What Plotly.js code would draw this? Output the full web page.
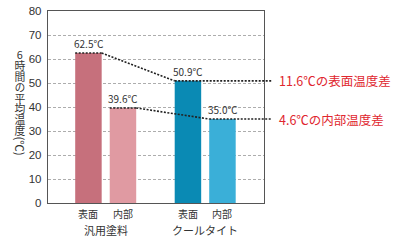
<!DOCTYPE html>
<html><head><meta charset="utf-8">
<script src="https://cdn.plot.ly/plotly-3.0.1.min.js"></script>
<style>html,body{margin:0;padding:0;background:#fff}#c{width:414px;height:245px}</style>
</head><body><div id="c"></div>
<script>
// data
var groups = ['汎用塗料', 'クールタイト'];
var parts = ['表面', '内部'];
var surfaceVals = [62.5, 50.9];
var innerVals = [39.6, 35.0];
var yTicks = [0, 10, 20, 30, 40, 50, 60, 70, 80];
var yTitle = '6時間の平均温度';
var unit = '℃';

var surfaceColors = ['#c6707c', '#0a8ab4'];
var innerColors = ['#e09aa2', '#3aafd8'];
var FONT = 'Noto Sans CJK JP, sans-serif';

var bargap = 0.306, bargroupgap = 0.233;
var slot = (1 - bargap) / 2;
var halfW = slot * (1 - bargroupgap) / 2;
function center(g, t) { return g + (t - 0.5) * slot; }

var traces = [
  {type: 'bar', x: groups, y: surfaceVals, marker: {color: surfaceColors}, hoverinfo: 'none', name: parts[0]},
  {type: 'bar', x: groups, y: innerVals, marker: {color: innerColors}, hoverinfo: 'none', name: parts[1]}
];

var xr = [-0.580, 1.591];
var yr = [0, 80];
function xp(x) { return (x - xr[0]) / (xr[1] - xr[0]); }
function yp(y) { return (y - yr[0]) / (yr[1] - yr[0]); }

var annotations = [];
var shapes = [];
var series = [surfaceVals, innerVals];
for (var t = 0; t < 2; t++) {
  for (var g = 0; g < 2; g++) {
    var v = series[t][g];
    annotations.push({xref: 'x', yref: 'y', x: center(g, t), y: v, yanchor: 'bottom', yshift: 0,
      text: v.toFixed(1) + unit, showarrow: false, font: {family: FONT, size: 10, color: '#333'}});
    annotations.push({xref: 'x', yref: 'paper', x: center(g, t), y: 0, yanchor: 'top', yshift: -1,
      text: parts[t], showarrow: false, font: {family: FONT, size: 10, color: '#333'}});
  }
  // connector lines
  var a = series[t][0], b = series[t][1];
  var ln = {color: '#222', width: 1.6, dash: '2px,1.5px'};
  shapes.push({type: 'line', xref: 'paper', yref: 'paper', x0: xp(center(0, t) - halfW), x1: xp(center(0, t) + halfW), y0: yp(a), y1: yp(a), line: ln, layer: 'above'});
  shapes.push({type: 'line', xref: 'paper', yref: 'paper', x0: xp(center(0, t) + halfW), x1: xp(center(1, t) - halfW), y0: yp(a), y1: yp(b), line: ln, layer: 'above'});
  shapes.push({type: 'line', xref: 'paper', yref: 'paper', x0: xp(center(1, t) - halfW), x1: 1.037, y0: yp(b), y1: yp(b), line: ln, layer: 'above'});
  var label = (a - b).toFixed(1) + unit + 'の' + (t === 0 ? '表面' : '内部') + '温度差';
  annotations.push({xref: 'paper', yref: 'y', x: 1.06, y: b, xanchor: 'left', yanchor: 'middle',
    text: label, showarrow: false, font: {family: FONT, size: 12.5, color: '#e0262e'}});
}
for (var g = 0; g < 2; g++) {
  annotations.push({xref: 'x', yref: 'paper', x: g, y: 0, yanchor: 'top', yshift: -17,
    text: groups[g], showarrow: false, font: {family: FONT, size: 11, color: '#333'}});
}
// y-axis title: vertical writing (set after render), unit part rotated
annotations.push({xref: 'paper', yref: 'paper', x: 0, xshift: -28, y: 0.60, yshift: 0,
  xanchor: 'center', yanchor: 'middle', text: yTitle, showarrow: false,
  font: {family: FONT, size: 10.8, color: '#333'}});
annotations.push({xref: 'paper', yref: 'paper', x: 0, xshift: -28, y: 0.30,
  xanchor: 'center', yanchor: 'middle', text: '(' + unit + ')', textangle: 90, showarrow: false,
  font: {family: FONT, size: 11.5, color: '#333'}});

var layout = {
  width: 414, height: 245,
  margin: {l: 48, r: 150, t: 11, b: 42},
  paper_bgcolor: '#fff', plot_bgcolor: '#fff',
  showlegend: false,
  barmode: 'group', bargap: bargap, bargroupgap: bargroupgap,
  font: {family: FONT, color: '#333'},
  xaxis: {type: 'category', range: xr, showticklabels: false, ticks: '', showgrid: false,
    showline: true, linecolor: '#555', linewidth: 1.2, mirror: true, zeroline: false},
  yaxis: {range: yr, tickvals: yTicks, ticktext: yTicks.map(String), ticks: '', ticklabelstandoff: 3,
    tickfont: {family: 'Liberation Sans, Arial, sans-serif', size: 11.5, color: '#333'},
    showgrid: true, gridcolor: '#999', griddash: '3px,2px', gridwidth: 0.8,
    showline: true, linecolor: '#555', linewidth: 1.2, mirror: true, zeroline: false},
  annotations: annotations,
  shapes: shapes
};
Plotly.newPlot('c', traces, layout, {staticPlot: true, displayModeBar: false}).then(function () {
  document.querySelectorAll('.annotation-text').forEach(function (tx) {
    if (tx.textContent !== yTitle) return;
    tx.style.writingMode = 'vertical-rl';
    tx.style.textOrientation = 'upright';
    tx.setAttribute('text-anchor', 'middle');
  });
});
</script>
</body></html>
